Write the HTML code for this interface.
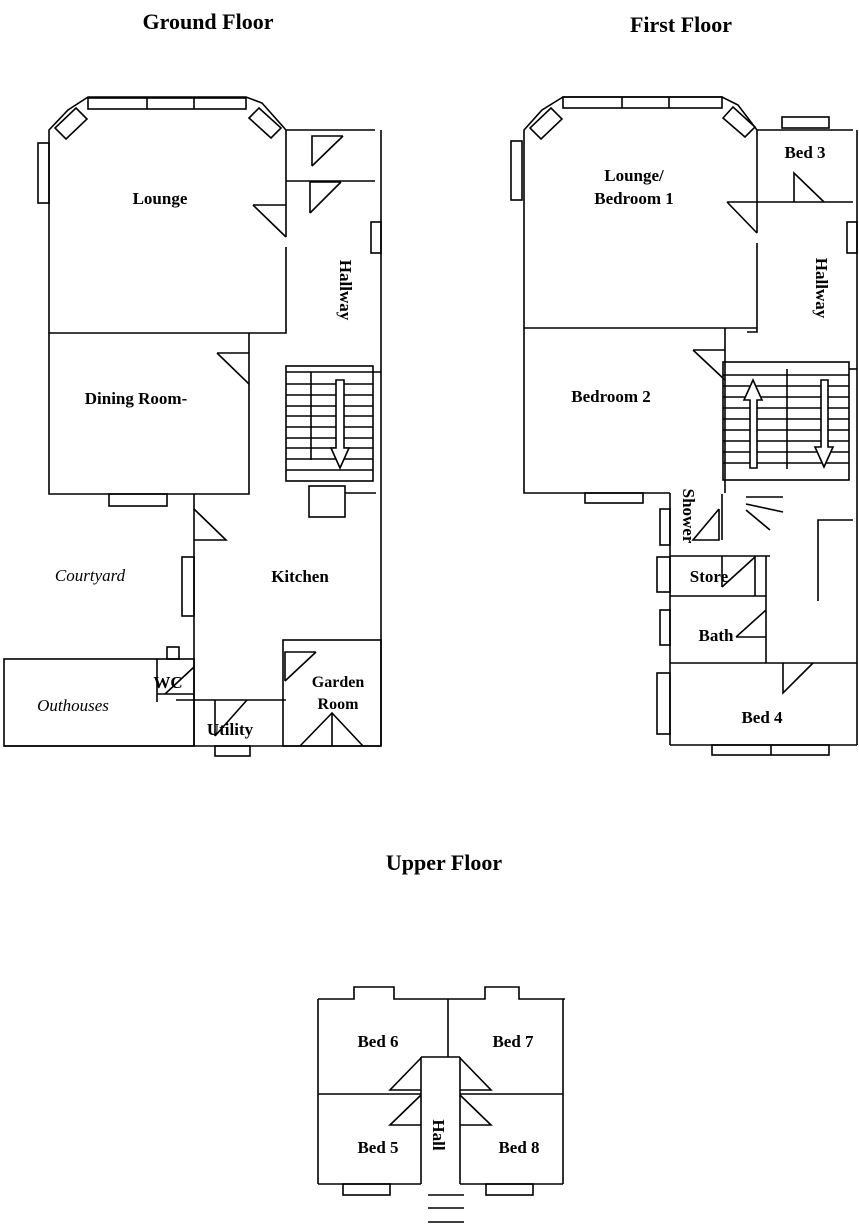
<!DOCTYPE html>
<html><head><meta charset="utf-8"><style>
html,body{margin:0;padding:0;background:#fff;}
svg{display:block;}
text{font-family:"Liberation Serif",serif;font-weight:bold;font-size:17px;fill:#000;}
.t{font-size:22px;}
.i{font-style:italic;font-weight:normal;}
</style></head><body>
<svg width="859" height="1225" viewBox="0 0 859 1225" xmlns="http://www.w3.org/2000/svg">
<g fill="none" stroke="#000" stroke-width="1.6">
<!-- GROUND FLOOR -->
<polyline points="286,237 286,130 262,103 246,97 88,97 68,110 49,130 49,333 286,333 286,247"/>
<rect x="88" y="98" width="158" height="11"/><line x1="147" y1="98" x2="147" y2="109"/><line x1="194" y1="98" x2="194" y2="109"/>
<polygon points="55,128 66,139 87,119 76,108"/>
<polygon points="249,118 271,138 281,128 259,108"/>
<rect x="38" y="143" width="11" height="60"/>
<line x1="286" y1="130" x2="375" y2="130"/><line x1="381" y1="130" x2="381" y2="746"/>
<line x1="286" y1="181" x2="375" y2="181"/>
<polyline points="312,166 312,136 343,136"/><line x1="312" y1="166" x2="343" y2="136"/>
<polyline points="310,213 310,182 341,182"/><line x1="310" y1="213" x2="341" y2="182"/>
<line x1="253" y1="205" x2="286" y2="205"/><line x1="253" y1="205" x2="286" y2="237"/>
<rect x="371" y="222" width="10" height="31"/>
<polyline points="49,333 49,494 249,494 249,333"/>
<line x1="217" y1="353" x2="249" y2="353"/><line x1="217" y1="353" x2="249" y2="384"/>
<rect x="109" y="494" width="58" height="12"/>
<rect x="286" y="366" width="87" height="115"/>
<line x1="286" y1="372" x2="381" y2="372"/>
<line x1="286" y1="384" x2="373" y2="384"/><line x1="286" y1="395" x2="373" y2="395"/><line x1="286" y1="406" x2="373" y2="406"/><line x1="286" y1="416" x2="373" y2="416"/><line x1="286" y1="427" x2="373" y2="427"/><line x1="286" y1="438" x2="373" y2="438"/><line x1="286" y1="448" x2="373" y2="448"/><line x1="286" y1="459" x2="373" y2="459"/><line x1="286" y1="470" x2="373" y2="470"/>
<line x1="311" y1="372" x2="311" y2="460"/>
<polygon points="336,380 344,380 344,448 349,448 340,468 331,448 336,448" fill="#fff"/>
<rect x="309" y="486" width="36" height="31"/><line x1="345" y1="493" x2="376" y2="493"/>
<line x1="194" y1="494" x2="194" y2="746"/>
<polyline points="194,509 226,540 194,540"/>
<rect x="182" y="557" width="12" height="59"/>
<rect x="4" y="659" width="190" height="87"/>
<line x1="157" y1="659" x2="157" y2="702"/><line x1="157" y1="694" x2="194" y2="694"/>
<rect x="167" y="647" width="12" height="12"/>
<line x1="165" y1="694" x2="194" y2="667"/>
<line x1="176" y1="700" x2="286" y2="700"/>
<line x1="215" y1="700" x2="215" y2="736"/><line x1="215" y1="736" x2="247" y2="700"/>
<rect x="215" y="746" width="35" height="10"/>
<rect x="283" y="640" width="98" height="106"/>
<polyline points="285,681 285,652 316,652"/><line x1="285" y1="681" x2="316" y2="652"/>
<polyline points="300,746 332,713 363,746"/><line x1="332" y1="713" x2="332" y2="746"/>
<line x1="4" y1="746" x2="381" y2="746"/>

<!-- FIRST FLOOR -->
<polyline points="757,233 757,130 738,105 722,97 563,97 542,110 524,130 524,493 670,493"/>
<rect x="563" y="97" width="159" height="11"/><line x1="622" y1="97" x2="622" y2="108"/><line x1="669" y1="97" x2="669" y2="108"/>
<polygon points="530,128 541,139 562,119 551,108"/>
<polygon points="723,118 745,137 755,127 733,107"/>
<rect x="511" y="141" width="11" height="59"/>
<line x1="524" y1="328" x2="757" y2="328"/><polyline points="757,243 757,332 747,332"/>
<line x1="757" y1="130" x2="853" y2="130"/><line x1="857" y1="130" x2="857" y2="745"/>
<rect x="782" y="117" width="47" height="11"/>
<line x1="727" y1="202" x2="853" y2="202"/>
<polyline points="794,202 794,173 824,202"/>
<line x1="727" y1="202" x2="757" y2="233"/>
<rect x="847" y="222" width="10" height="31"/>
<line x1="725" y1="328" x2="725" y2="493"/>
<line x1="693" y1="350" x2="725" y2="350"/><line x1="693" y1="350" x2="725" y2="380"/>
<rect x="723" y="362" width="126" height="118"/>
<line x1="849" y1="369" x2="857" y2="369"/>
<line x1="723" y1="375" x2="849" y2="375"/><line x1="723" y1="386" x2="849" y2="386"/><line x1="723" y1="397" x2="849" y2="397"/><line x1="723" y1="408" x2="849" y2="408"/><line x1="723" y1="419" x2="849" y2="419"/><line x1="723" y1="430" x2="849" y2="430"/><line x1="723" y1="441" x2="849" y2="441"/><line x1="723" y1="452" x2="849" y2="452"/><line x1="723" y1="463" x2="849" y2="463"/>
<line x1="787" y1="369" x2="787" y2="469"/>
<polygon points="750,468 757,468 757,400 762,400 753,380 744,400 750,400" fill="#fff"/>
<polygon points="821,380 828,380 828,447 833,447 824,467 815,447 821,447" fill="#fff"/>
<rect x="585" y="493" width="58" height="10"/>
<line x1="670" y1="493" x2="670" y2="745"/>
<line x1="722" y1="494" x2="722" y2="540"/>
<polyline points="719,509 719,540 693,540 719,509"/>
<rect x="660" y="509" width="10" height="36"/>
<line x1="746" y1="497" x2="783" y2="497"/><line x1="746" y1="504" x2="783" y2="512"/><line x1="746" y1="510" x2="770" y2="530"/>
<polyline points="853,520 818,520 818,601"/>
<line x1="670" y1="556" x2="770" y2="556"/><line x1="670" y1="596" x2="766" y2="596"/>
<line x1="755" y1="556" x2="755" y2="596"/><line x1="766" y1="556" x2="766" y2="663"/>
<line x1="722" y1="587" x2="755" y2="557"/><line x1="722" y1="556" x2="722" y2="587"/>
<rect x="657" y="557" width="13" height="35"/>
<line x1="736" y1="637" x2="766" y2="610"/><line x1="736" y1="637" x2="766" y2="637"/>
<rect x="660" y="610" width="10" height="35"/>
<line x1="670" y1="663" x2="857" y2="663"/>
<polyline points="783,663 783,693 813,663"/>
<rect x="657" y="673" width="13" height="61"/>
<line x1="670" y1="745" x2="857" y2="745"/>
<rect x="712" y="745" width="117" height="10"/><line x1="771" y1="745" x2="771" y2="755"/>

<!-- UPPER FLOOR -->
<polyline points="318,999 354,999 354,987 394,987 394,999 485,999 485,987 519,987 519,999 565,999"/>
<line x1="318" y1="999" x2="318" y2="1184"/><line x1="563" y1="999" x2="563" y2="1184"/>
<line x1="448" y1="999" x2="448" y2="1057"/>
<line x1="421" y1="1057" x2="460" y2="1057"/>
<line x1="421" y1="1057" x2="421" y2="1184"/><line x1="460" y1="1057" x2="460" y2="1184"/>
<line x1="318" y1="1094" x2="421" y2="1094"/><line x1="460" y1="1094" x2="563" y2="1094"/>
<polyline points="421,1058 390,1090 421,1090"/><polyline points="421,1095 390,1125 421,1125"/>
<polyline points="460,1058 491,1090 460,1090"/><polyline points="460,1095 491,1125 460,1125"/>
<line x1="318" y1="1184" x2="421" y2="1184"/><line x1="460" y1="1184" x2="563" y2="1184"/>
<rect x="343" y="1184" width="47" height="11"/><rect x="486" y="1184" width="47" height="11"/>
<line x1="428" y1="1195" x2="464" y2="1195"/><line x1="428" y1="1208" x2="464" y2="1208"/><line x1="428" y1="1222" x2="464" y2="1222"/>
</g>
<text class="t" x="208" y="29" text-anchor="middle">Ground Floor</text>
<text class="t" x="681" y="32" text-anchor="middle">First Floor</text>
<text class="t" x="444" y="870" text-anchor="middle">Upper Floor</text>
<text x="160" y="204" text-anchor="middle">Lounge</text>
<text x="136" y="404" text-anchor="middle">Dining Room-</text>
<text x="300" y="582" text-anchor="middle">Kitchen</text>
<text class="i" x="90" y="581" text-anchor="middle">Courtyard</text>
<text class="i" x="73" y="711" text-anchor="middle">Outhouses</text>
<text x="168" y="688" text-anchor="middle">WC</text>
<text x="230" y="735" text-anchor="middle">Utility</text>
<text x="338" y="687" text-anchor="middle" style="font-size:16px">Garden</text>
<text x="338" y="709" text-anchor="middle" style="font-size:16px">Room</text>
<text x="0" y="0" transform="translate(340,290) rotate(90)" text-anchor="middle">Hallway</text>
<text x="634" y="181" text-anchor="middle">Lounge/</text>
<text x="634" y="204" text-anchor="middle">Bedroom 1</text>
<text x="805" y="158" text-anchor="middle">Bed 3</text>
<text x="0" y="0" transform="translate(816,288) rotate(90)" text-anchor="middle">Hallway</text>
<text x="611" y="402" text-anchor="middle">Bedroom 2</text>
<text x="0" y="0" transform="translate(683,516) rotate(90)" text-anchor="middle">Shower</text>
<text x="709" y="582" text-anchor="middle">Store</text>
<text x="716" y="641" text-anchor="middle">Bath</text>
<text x="762" y="723" text-anchor="middle">Bed 4</text>
<text x="378" y="1047" text-anchor="middle">Bed 6</text>
<text x="513" y="1047" text-anchor="middle">Bed 7</text>
<text x="378" y="1153" text-anchor="middle">Bed 5</text>
<text x="519" y="1153" text-anchor="middle">Bed 8</text>
<text x="0" y="0" transform="translate(433,1135) rotate(90)" text-anchor="middle">Hall</text>
</svg>
</body></html>
